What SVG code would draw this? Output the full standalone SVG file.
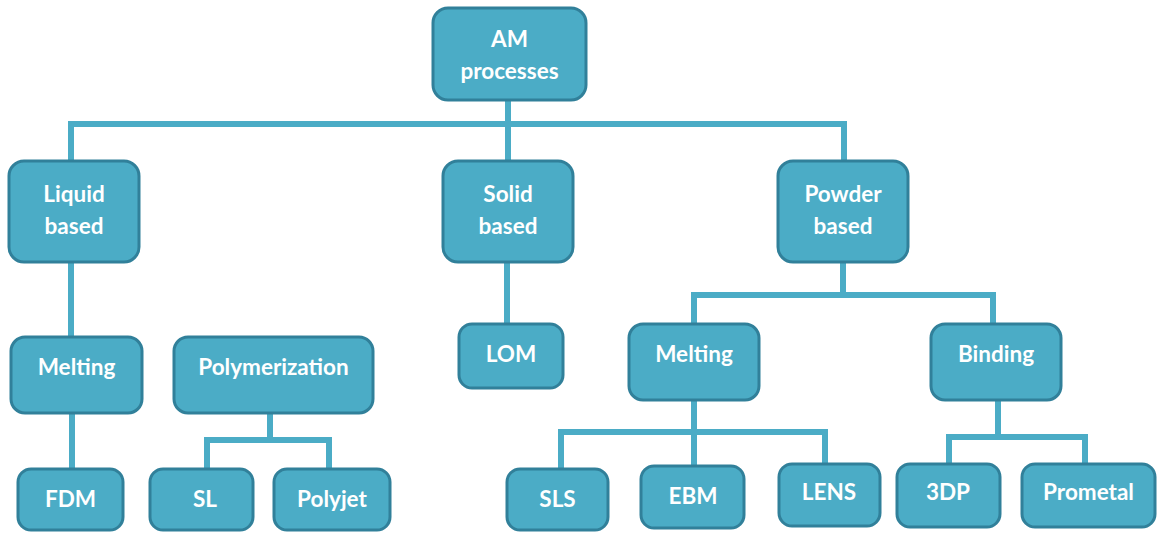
<svg xmlns="http://www.w3.org/2000/svg" width="1158" height="533" viewBox="0 0 1158 533">
<style>
.box{fill:#4BACC6;stroke:#31809A;stroke-width:3}
.lbl{font-family:Lato,"Open Sans","Liberation Sans",sans-serif;font-weight:bold;font-size:22.5px;fill:#FFFFFF;text-anchor:middle}
.conn{fill:none;stroke:#4BACC6;stroke-width:6;stroke-linejoin:miter}
</style>
<rect width="1158" height="533" fill="#FFFFFF"/>
<g id="connectors" class="conn">
<path d="M508 100 V262"/>
<path d="M71 162 V124 H844 V162"/>
<path d="M71 262 V338"/>
<path d="M507 262 V325"/>
<path d="M843 262 V295"/>
<path d="M694 324 V295 H993 V324"/>
<path d="M72 413 V469"/>
<path d="M270 413 V440"/>
<path d="M207 469 V440 H329 V469"/>
<path d="M694 400 V466"/>
<path d="M561 469 V432 H825 V464"/>
<path d="M998 400 V437"/>
<path d="M949 464 V437 H1085 V464"/>
</g>
<g id="am"><rect class="box" x="433" y="8" width="153" height="92" rx="15"/><text class="lbl" x="509.5" y="47">AM</text><text class="lbl" x="509.5" y="79">processes</text></g>
<g id="liquid"><rect class="box" x="9" y="161" width="130" height="101" rx="15"/><text class="lbl" x="74" y="202">Liquid</text><text class="lbl" x="74" y="234">based</text></g>
<g id="solid"><rect class="box" x="443" y="161" width="130" height="101" rx="15"/><text class="lbl" x="508" y="202">Solid</text><text class="lbl" x="508" y="234">based</text></g>
<g id="powder"><rect class="box" x="778" y="161" width="130" height="101" rx="15"/><text class="lbl" x="843" y="202">Powder</text><text class="lbl" x="843" y="234">based</text></g>
<g id="melting1"><rect class="box" x="11" y="337" width="131" height="76" rx="14"/><text class="lbl" x="76.5" y="375">Melting</text></g>
<g id="polymerization"><rect class="box" x="174" y="337" width="199" height="76" rx="14"/><text class="lbl" x="273.5" y="375">Polymerization</text></g>
<g id="lom"><rect class="box" x="459" y="324" width="104" height="64" rx="13"/><text class="lbl" x="511" y="362">LOM</text></g>
<g id="melting2"><rect class="box" x="629" y="324" width="130" height="76" rx="14"/><text class="lbl" x="694" y="362">Melting</text></g>
<g id="binding"><rect class="box" x="931" y="324" width="130" height="76" rx="14"/><text class="lbl" x="996" y="362">Binding</text></g>
<g id="fdm"><rect class="box" x="18" y="469" width="105" height="61" rx="13"/><text class="lbl" x="70.5" y="507">FDM</text></g>
<g id="sl"><rect class="box" x="150" y="469" width="103" height="61" rx="13"/><text class="lbl" x="205" y="507">SL</text></g>
<g id="polyjet"><rect class="box" x="274" y="469" width="116" height="61" rx="13"/><text class="lbl" x="332" y="507">Polyjet</text></g>
<g id="sls"><rect class="box" x="507" y="469" width="101" height="61" rx="13"/><text class="lbl" x="557.5" y="507">SLS</text></g>
<g id="ebm"><rect class="box" x="641" y="466" width="103" height="62" rx="13"/><text class="lbl" x="693" y="504">EBM</text></g>
<g id="lens"><rect class="box" x="779" y="464" width="101" height="62" rx="13"/><text class="lbl" x="829" y="500">LENS</text></g>
<g id="3dp"><rect class="box" x="897" y="464" width="103" height="63" rx="13"/><text class="lbl" x="948" y="500">3DP</text></g>
<g id="prometal"><rect class="box" x="1022" y="464" width="133" height="63" rx="13"/><text class="lbl" x="1088.5" y="500">Prometal</text></g>
</svg>
